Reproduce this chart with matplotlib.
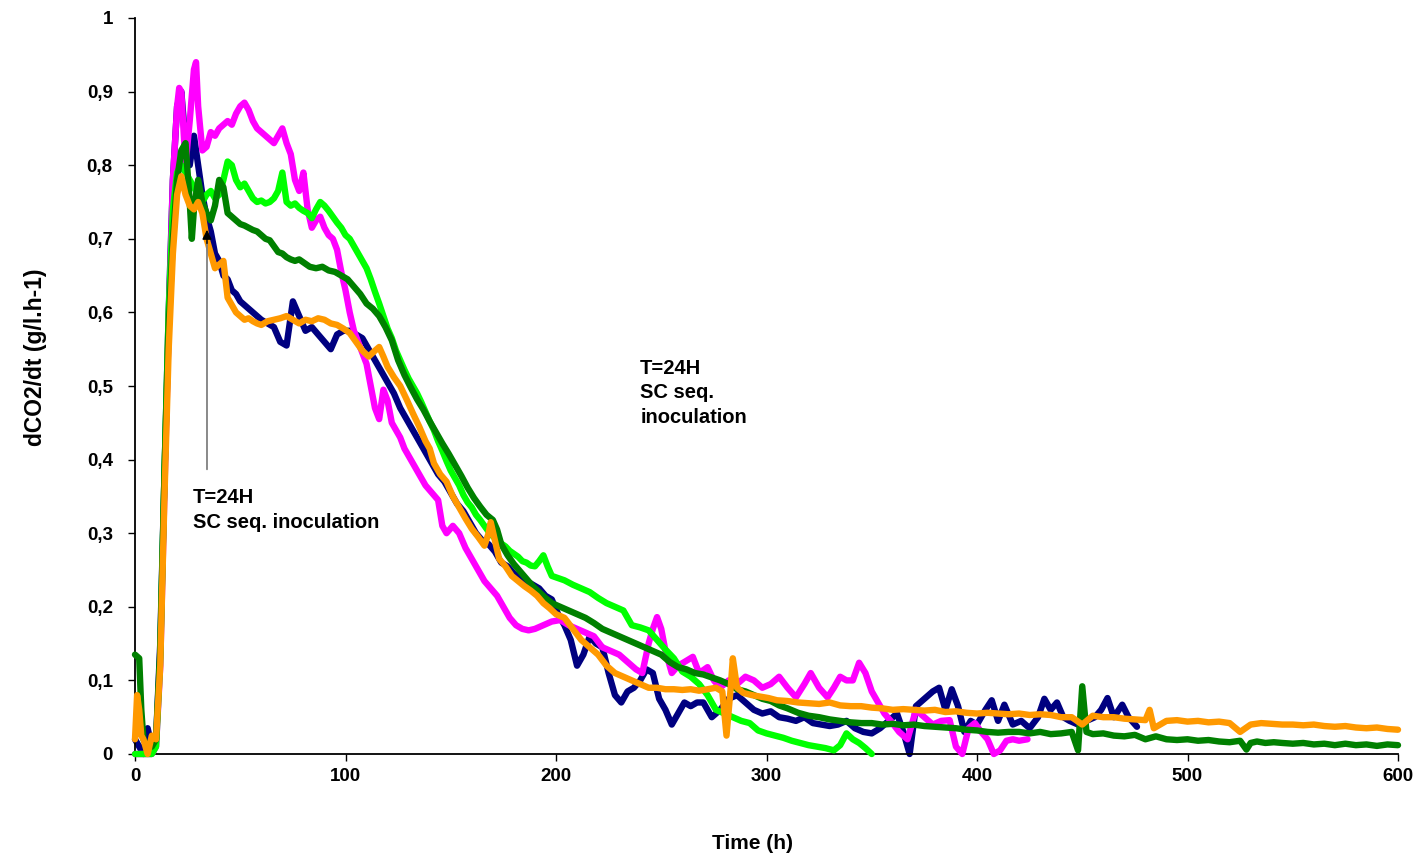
import matplotlib
matplotlib.use("Agg")
import matplotlib.pyplot as plt
from matplotlib.ticker import FuncFormatter

plt.rcParams['font.family'] = ['Liberation Sans', 'DejaVu Sans']

# ---------------- data ----------------
navy_t = [0, 2, 4, 6, 8, 10, 12, 14, 16, 18,
          20, 22, 24, 26, 28, 30, 32, 34, 36, 38,
          40, 42, 44, 46, 48, 50, 52, 54, 56, 58,
          60, 63, 66, 69, 72, 75, 78, 81, 84, 87,
          90, 93, 96, 99, 102, 105, 108, 111, 114, 117,
          120, 123, 126, 129, 132, 135, 138, 141, 144, 147,
          150, 153, 156, 159, 162, 165, 168, 171, 174, 177,
          180, 183, 186, 189, 192, 195, 198, 201, 204, 207,
          210, 213, 216, 219, 222, 225, 228, 231, 234, 237,
          240, 243, 246, 249, 252, 255, 258, 261, 264, 267,
          270, 274, 278, 282, 286, 290, 294, 298, 302, 306,
          310, 314, 318, 322, 326, 330, 334, 338, 342, 346,
          350, 354, 358, 362, 365, 368, 371, 375, 379, 382,
          385, 388, 391, 394, 397, 400, 404, 407, 410, 413,
          417, 421, 425, 429, 432, 435, 438, 441, 444, 448,
          452, 456, 459, 462, 465, 469, 472, 476]
navy_v = [0.02, 0.01, 0.0, 0.035, 0.01, 0.02, 0.15, 0.38, 0.6, 0.78,
          0.88, 0.9, 0.83, 0.8, 0.84, 0.8, 0.76, 0.73, 0.71, 0.68,
          0.67, 0.65, 0.645, 0.63, 0.625, 0.615, 0.61, 0.605, 0.6, 0.595,
          0.59, 0.585, 0.58, 0.56, 0.555, 0.615, 0.595, 0.575, 0.58, 0.57,
          0.56, 0.55, 0.57, 0.575, 0.575, 0.57, 0.565, 0.55, 0.535, 0.52,
          0.505, 0.49, 0.47, 0.455, 0.44, 0.425, 0.41, 0.395, 0.38, 0.37,
          0.355, 0.34, 0.33, 0.315, 0.3, 0.29, 0.285, 0.275, 0.26, 0.255,
          0.245, 0.24, 0.235, 0.23, 0.225, 0.215, 0.21, 0.19, 0.175, 0.155,
          0.12, 0.135, 0.16, 0.15, 0.145, 0.11, 0.08, 0.07, 0.085, 0.09,
          0.1, 0.115, 0.11, 0.075, 0.06, 0.04, 0.055, 0.07, 0.065, 0.07,
          0.07, 0.05, 0.06, 0.075, 0.08, 0.07, 0.06, 0.055, 0.058, 0.05,
          0.048, 0.045, 0.05, 0.042, 0.04, 0.038, 0.04, 0.045, 0.035, 0.03,
          0.028, 0.035, 0.045, 0.055, 0.03, 0.0, 0.065, 0.075, 0.085, 0.09,
          0.06, 0.088, 0.065, 0.03, 0.045, 0.04, 0.06, 0.073, 0.045, 0.067,
          0.04, 0.045, 0.035, 0.05, 0.075, 0.06, 0.07, 0.05, 0.045, 0.04,
          0.045, 0.05, 0.06, 0.076, 0.05, 0.067, 0.05, 0.037]

magenta_t = [0, 2, 4, 6, 8, 10, 12, 14, 16, 18,
             20, 21, 22, 24, 25, 26, 28, 29, 30, 32,
             34, 36, 38, 40, 42, 44, 46, 48, 50, 52,
             54, 56, 58, 60, 62, 64, 66, 68, 70, 72,
             74, 76, 78, 80, 82, 84, 86, 88, 90, 92,
             94, 96, 98, 100, 102, 104, 106, 108, 110, 112,
             114, 116, 118, 120, 122, 124, 126, 128, 130, 132,
             135, 138, 141, 144, 146, 148, 151, 154, 157, 160,
             163, 166, 169, 172, 175, 178, 181, 184, 187, 190,
             194, 198, 202, 206, 210, 214, 218, 222, 226, 230,
             234, 238, 241, 244, 246, 248, 250, 252, 255, 258,
             261, 265, 268, 272, 275, 278, 282, 286, 290, 294,
             298, 302, 306, 310, 314, 318, 321, 325, 329, 332,
             335, 338, 341, 344, 347, 350, 353, 356, 359, 363,
             367, 371, 375, 379, 383, 387, 390, 393, 396, 399,
             402, 405, 408, 411, 414, 417, 420, 424]
magenta_v = [0.0, 0.0, 0.0, 0.0, 0.0, 0.01, 0.12, 0.36, 0.58, 0.78,
             0.88, 0.905, 0.9, 0.8, 0.83, 0.86, 0.93, 0.94, 0.88, 0.82,
             0.825, 0.845, 0.84, 0.85, 0.855, 0.86, 0.855, 0.87, 0.88, 0.885,
             0.875, 0.86, 0.85, 0.845, 0.84, 0.835, 0.83, 0.84, 0.85, 0.83,
             0.815, 0.78, 0.765, 0.79, 0.74, 0.715, 0.725, 0.73, 0.715, 0.705,
             0.7, 0.685, 0.655, 0.63, 0.6, 0.575, 0.56, 0.545, 0.53, 0.5,
             0.47, 0.455, 0.495, 0.48, 0.45, 0.44, 0.43, 0.415, 0.405, 0.395,
             0.38, 0.365, 0.355, 0.345, 0.31, 0.3, 0.31, 0.3, 0.28, 0.265,
             0.25, 0.235, 0.225, 0.215, 0.2, 0.185, 0.175, 0.17, 0.168, 0.17,
             0.175, 0.18, 0.182, 0.175, 0.17, 0.165, 0.16, 0.145, 0.14, 0.135,
             0.125, 0.115, 0.11, 0.15, 0.17, 0.186, 0.17, 0.14, 0.11, 0.12,
             0.125, 0.132, 0.11, 0.118, 0.1, 0.09, 0.1, 0.095, 0.105, 0.1,
             0.09, 0.095, 0.105, 0.09, 0.077, 0.095, 0.11, 0.09, 0.077, 0.09,
             0.105, 0.1, 0.1, 0.124, 0.11, 0.085, 0.07, 0.055, 0.045, 0.03,
             0.02, 0.06, 0.05, 0.04, 0.045, 0.046, 0.01, 0.0, 0.035, 0.042,
             0.03, 0.02, 0.0, 0.005, 0.018, 0.02, 0.018, 0.02]

lime_t = [0, 2, 4, 6, 8, 10, 12, 14, 16, 18,
          20, 22, 24, 26, 28, 30, 32, 34, 36, 38,
          40, 42, 44, 46, 48, 50, 52, 54, 56, 58,
          60, 62, 64, 66, 68, 70, 72, 74, 76, 78,
          80, 82, 84, 86, 88, 90, 92, 94, 96, 98,
          100, 102, 104, 106, 108, 110, 112, 114, 116, 118,
          120, 122, 124, 126, 128, 130, 132, 134, 136, 138,
          140, 142, 144, 146, 148, 150, 152, 154, 156, 158,
          160, 162, 164, 166, 168, 170, 172, 174, 176, 178,
          180, 182, 184, 186, 188, 190, 192, 194, 196, 198,
          200, 204, 208, 212, 216, 220, 224, 228, 232, 236,
          240, 244, 248, 252, 256, 260, 264, 268, 272, 276,
          280, 284, 288, 292, 296, 300, 304, 308, 312, 316,
          320, 324, 328, 332, 335, 338, 341, 344, 347, 350]
lime_v = [0.0, 0.0, 0.0, 0.0, 0.0, 0.01, 0.13, 0.38, 0.6, 0.74,
          0.79, 0.8, 0.79, 0.78, 0.77, 0.76, 0.75, 0.76, 0.765, 0.755,
          0.76, 0.78, 0.805, 0.8, 0.78, 0.77, 0.775, 0.765, 0.755, 0.75,
          0.752, 0.748, 0.75, 0.755, 0.765, 0.79, 0.75, 0.745, 0.748, 0.742,
          0.738, 0.735, 0.728, 0.74, 0.75, 0.745, 0.738, 0.73, 0.722, 0.715,
          0.705, 0.7, 0.69, 0.68, 0.67, 0.66, 0.645, 0.628, 0.612, 0.595,
          0.578, 0.565, 0.548, 0.535, 0.522, 0.51, 0.5, 0.49, 0.478, 0.465,
          0.452, 0.44, 0.425, 0.412, 0.398, 0.385, 0.375, 0.365, 0.352, 0.342,
          0.335, 0.325, 0.318, 0.31, 0.302, 0.296, 0.29, 0.286, 0.282, 0.276,
          0.272, 0.268, 0.262, 0.26, 0.256, 0.255, 0.262, 0.27, 0.255, 0.242,
          0.24, 0.236, 0.23, 0.225, 0.22, 0.212, 0.205, 0.2, 0.195, 0.175,
          0.172, 0.168, 0.155, 0.142, 0.13, 0.112, 0.105, 0.095, 0.08, 0.06,
          0.055, 0.05, 0.045, 0.042, 0.032, 0.028, 0.025, 0.022, 0.018, 0.015,
          0.012, 0.01, 0.008, 0.005, 0.012, 0.028, 0.02, 0.015, 0.008, 0.0]

dkgreen_t = [0, 2, 3, 4, 6, 8, 10, 12, 14, 16,
             18, 20, 22, 24, 26, 27, 28, 30, 32, 34,
             36, 38, 40, 42, 44, 46, 48, 50, 52, 54,
             56, 58, 60, 62, 64, 66, 68, 70, 72, 74,
             76, 78, 80, 83, 86, 89, 92, 95, 98, 101,
             104, 107, 110, 113, 116, 119, 122, 125, 128, 131,
             134, 137, 140, 143, 146, 149, 152, 155, 158, 161,
             164, 167, 170, 172, 174, 177, 180, 183, 186, 189,
             192, 195, 198, 202, 206, 210, 214, 218, 222, 226,
             230, 234, 238, 242, 246, 250, 254, 258, 262, 266,
             270, 274, 278, 282, 286, 290, 294, 298, 302, 306,
             310, 315, 320, 325, 330, 335, 340, 345, 350, 355,
             360, 365, 370, 375, 380, 385, 390, 395, 400, 405,
             410, 415, 420, 425, 430, 435, 440, 445, 448, 450,
             452, 455, 460, 465, 470, 475, 480, 485, 490, 495,
             500, 505, 510, 515, 520, 525, 528, 530, 533, 537,
             541, 545, 550, 555, 560, 565, 570, 575, 580, 585,
             590, 595, 600]
dkgreen_v = [0.135, 0.13, 0.06, 0.02, 0.01, 0.01, 0.02, 0.14, 0.38, 0.58,
             0.7, 0.78, 0.82, 0.83, 0.75, 0.7, 0.74, 0.78, 0.75, 0.735,
             0.725, 0.745, 0.78, 0.77, 0.735, 0.73, 0.725, 0.72, 0.718, 0.715,
             0.712, 0.71, 0.705, 0.7, 0.698, 0.69, 0.682, 0.68, 0.675, 0.672,
             0.67, 0.672, 0.668, 0.662, 0.66, 0.662, 0.657, 0.655, 0.65, 0.645,
             0.635, 0.625, 0.612, 0.605, 0.595, 0.58, 0.562, 0.535, 0.515, 0.498,
             0.482, 0.468, 0.452, 0.437, 0.422, 0.408, 0.393, 0.378, 0.362, 0.348,
             0.336, 0.325, 0.318, 0.305, 0.285, 0.27, 0.258, 0.248, 0.238, 0.228,
             0.22, 0.212, 0.205, 0.2, 0.195, 0.19, 0.185, 0.178, 0.17, 0.165,
             0.16, 0.155, 0.15, 0.145, 0.14, 0.135, 0.125, 0.118, 0.115, 0.11,
             0.108, 0.104, 0.1, 0.095, 0.088, 0.085, 0.08, 0.075, 0.072, 0.066,
             0.062, 0.056, 0.052, 0.05, 0.047, 0.045, 0.043, 0.042, 0.042, 0.04,
             0.041, 0.039, 0.04, 0.038, 0.037, 0.036, 0.035, 0.033, 0.032, 0.03,
             0.029, 0.03, 0.03, 0.028, 0.03, 0.027, 0.028, 0.03, 0.005, 0.092,
             0.03, 0.027, 0.028, 0.025, 0.024, 0.026, 0.02, 0.024, 0.02, 0.019,
             0.02, 0.018, 0.019, 0.017, 0.016, 0.018, 0.006, 0.015, 0.017, 0.015,
             0.016, 0.015, 0.014, 0.015, 0.013, 0.014, 0.012, 0.014, 0.012, 0.013,
             0.011, 0.013, 0.012]

orange_t = [0, 1, 2, 3, 4, 6, 8, 10, 12, 14,
            16, 18, 20, 22, 24, 26, 28, 30, 32, 34,
            36, 38, 40, 42, 44, 46, 48, 50, 52, 54,
            56, 58, 60, 63, 66, 69, 72, 75, 78, 81,
            84, 87, 90, 93, 96, 99, 102, 105, 108, 111,
            114, 116, 118, 120, 123, 126, 129, 132, 135, 138,
            140, 142, 145, 148, 151, 154, 157, 160, 163, 166,
            168, 169, 171, 173, 176, 179, 182, 185, 188, 191,
            194, 197, 200, 204, 208, 212, 216, 220, 224, 228,
            232, 236, 240, 244, 248, 252, 256, 260, 264, 268,
            272, 276, 279, 281, 283, 284, 286, 289, 293, 297,
            301, 305, 310, 315, 320, 325, 330, 335, 340, 345,
            350, 355, 360, 365, 370, 375, 380, 385, 390, 395,
            400, 405, 410, 415, 420, 425, 430, 435, 440, 445,
            450, 455, 460, 465, 470, 475, 480, 482, 484, 490,
            495, 500, 505, 510, 515, 520, 525, 530, 535, 540,
            545, 550, 555, 560, 565, 570, 575, 580, 585, 590,
            595, 600]
orange_v = [0.02, 0.08, 0.06, 0.025, 0.02, 0.0, 0.025, 0.02, 0.12, 0.35,
            0.55, 0.68, 0.76, 0.785, 0.76, 0.745, 0.74, 0.75, 0.735, 0.7,
            0.68, 0.66, 0.665, 0.67, 0.62, 0.61, 0.6, 0.595, 0.59, 0.592,
            0.588, 0.585, 0.583, 0.588, 0.59, 0.592, 0.595, 0.59, 0.585, 0.59,
            0.588, 0.592, 0.59, 0.585, 0.583, 0.578, 0.572, 0.56, 0.548, 0.54,
            0.548, 0.553, 0.54, 0.526, 0.512, 0.5, 0.482, 0.463, 0.445, 0.425,
            0.415, 0.395, 0.38, 0.37, 0.35, 0.335, 0.32, 0.306, 0.295, 0.283,
            0.3, 0.315, 0.29, 0.265, 0.255, 0.242, 0.235, 0.228, 0.222, 0.215,
            0.205, 0.198, 0.19, 0.185, 0.17, 0.155, 0.145, 0.135, 0.12, 0.11,
            0.105, 0.1, 0.095, 0.09, 0.09, 0.088, 0.088, 0.087, 0.088, 0.086,
            0.088, 0.09, 0.085, 0.025, 0.09, 0.13, 0.09, 0.083, 0.08, 0.078,
            0.076, 0.073, 0.072, 0.07, 0.069, 0.068, 0.07, 0.066, 0.065, 0.065,
            0.063, 0.062, 0.06, 0.061, 0.06, 0.059, 0.06, 0.057, 0.058, 0.056,
            0.055, 0.056, 0.055, 0.054, 0.055, 0.053, 0.054, 0.053, 0.05, 0.05,
            0.04, 0.052, 0.05, 0.05, 0.048, 0.047, 0.046, 0.06, 0.035, 0.045,
            0.046, 0.044, 0.045, 0.043, 0.044, 0.042, 0.03, 0.04, 0.042, 0.041,
            0.04, 0.04, 0.039, 0.04, 0.038, 0.037, 0.038, 0.036, 0.035, 0.036,
            0.034, 0.033]

x_ticks = [0, 100, 200, 300, 400, 500, 600]
y_ticks = [0, 0.1, 0.2, 0.3, 0.4, 0.5, 0.6, 0.7, 0.8, 0.9, 1.0]

annot_text = "T=24H\nSC seq. inoculation"
annot2_text = "T=24H\nSC seq.\ninoculation"
arrow_x = 34.2

# ---------------- figure ----------------
fig = plt.figure(figsize=(14.19, 8.58), dpi=100)
ax = fig.add_axes([135/1419, 1-754/858, (1398-135)/1419, (754-18)/858])

lw = 4.6
series = [
    (navy_t, navy_v, '#000080'),
    (magenta_t, magenta_v, '#FF00FF'),
    (lime_t, lime_v, '#00FF00'),
    (dkgreen_t, dkgreen_v, '#008000'),
    (orange_t, orange_v, '#FF9900'),
]
for i, (t, v, c) in enumerate(series):
    ax.plot(t, v, color=c, lw=lw, solid_joinstyle='round', solid_capstyle='round',
            zorder=2 + i, clip_on=False)

ax.set_xlim(0, 600)
ax.set_ylim(0, 1)
ax.set_xticks(x_ticks)
ax.set_yticks(y_ticks)

def yfmt(v, pos):
    if abs(v) < 1e-9:
        return "0"
    if abs(v - 1) < 1e-9:
        return "1"
    return ("%.1f" % v).replace('.', ',')

ax.yaxis.set_major_formatter(FuncFormatter(yfmt))
ax.xaxis.set_major_formatter(FuncFormatter(lambda v, p: "%d" % v))

for s in ['top', 'right']:
    ax.spines[s].set_visible(False)
for s in ['left', 'bottom']:
    ax.spines[s].set_linewidth(1.3)
    ax.spines[s].set_color('black')

ax.tick_params(axis='y', direction='out', length=5, width=1, pad=11,
               labelsize=13.5, colors='black')
ax.tick_params(axis='x', direction='out', length=5, width=1, pad=5,
               labelsize=13.5, colors='black')
for lab in ax.get_xticklabels() + ax.get_yticklabels():
    lab.set_fontweight('bold')

ax.set_xlabel("Time (h)", fontsize=15, fontweight='bold')
ax.set_ylabel("dCO2/dt (g/l.h-1)", fontsize=16.5, fontweight='bold')
ax.xaxis.set_label_coords((752 - 135) / 1263, (754 - 834) / 736)
ax.yaxis.set_label_coords((47 - 135) / 1263, (754 - 357) / 736)

# arrow (gray shaft, black head)
ax.annotate('', xy=(arrow_x, 0.70), xytext=(arrow_x, 0.383),
            arrowprops=dict(arrowstyle='-', color='#808080', lw=1.3), zorder=10)
ax.annotate('', xy=(arrow_x, 0.716), xytext=(arrow_x, 0.69),
            arrowprops=dict(arrowstyle='-|>', color='black', lw=1.0,
                            mutation_scale=14), zorder=10)

ax.text(27.5, 0.361, annot_text, fontsize=14.5, fontweight='bold', va='top',
        ha='left', linespacing=1.38, zorder=11)
ax.text(240, 0.537, annot2_text, fontsize=14.5, fontweight='bold', va='top',
        ha='left', linespacing=1.38, zorder=11)

fig.savefig("out.png", dpi=100)
